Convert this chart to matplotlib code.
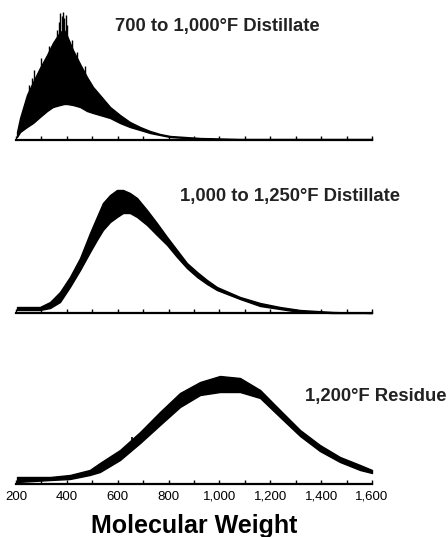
import numpy as np
import matplotlib.pyplot as plt
from matplotlib.ticker import MultipleLocator, FuncFormatter

# molecular weight grid points (relative signal, arbitrary units)
mw_a = [204, 216, 243, 267, 294, 322, 345, 373, 389, 401, 424, 452, 479, 503,
        530, 570, 609, 648, 688, 727, 766, 806, 865, 924, 1081, 1600]
upper_a = [8, 22, 45, 58, 72, 85, 97, 108, 110, 104, 90, 76, 63, 53,
           45, 33, 25, 18, 13, 9, 6, 4, 3, 2, 1, 1]
lower_a = [3, 8, 13, 17, 23, 29, 33, 35, 36, 36, 35, 33, 29, 27,
           25, 22, 17, 13, 10, 7, 5, 3, 2, 1, 0.5, 0.5]
spike_mw = [250, 262, 270, 300, 330, 360, 368, 374, 379, 384, 390, 396, 402, 420, 440, 470]
spike_h = [55, 62, 70, 82, 94, 110, 118, 127, 124, 128, 122, 125, 115, 100, 88, 74]

mw_b = [204, 294, 334, 373, 412, 452, 491, 518, 542, 570, 597, 621, 648, 676,
        715, 754, 794, 833, 872, 912, 951, 990, 1081, 1160, 1238, 1317, 1447, 1600]
upper_b = [6, 6, 11, 21, 36, 55, 80, 96, 110, 118, 123, 123, 120, 115,
           103, 90, 76, 63, 50, 41, 33, 26, 16, 10, 6, 3, 1, 0]
lower_b = [3, 3, 5, 11, 26, 43, 61, 73, 83, 91, 96, 100, 100, 96,
           88, 78, 68, 56, 45, 36, 29, 23, 14, 7, 4, 1, 0, 0]

mw_c = [204, 334, 412, 490, 530, 609, 688, 766, 845, 924, 1002, 1081, 1160,
        1238, 1317, 1395, 1474, 1553, 1600]
upper_c = [7, 7, 9, 14, 21, 34, 52, 72, 91, 102, 108, 106, 94,
           74, 54, 39, 27, 19, 14]
lower_c = [2, 4, 5, 9, 12, 24, 41, 59, 77, 89, 92, 92, 86,
           67, 48, 33, 22, 14, 11]
bump_mw = [656]
bump_h = [47]

labels = ["700 to 1,000\u00b0F Distillate",
          "1,000 to 1,250\u00b0F Distillate",
          "1,200\u00b0F Residue"]

W, H = 448, 537
fig = plt.figure(figsize=(W / 100, H / 100), dpi=100)
plt.rcParams['font.family'] = ['Liberation Sans', 'DejaVu Sans']

baselines = [140, 313, 484]
label_pos = [(115, 26), (180, 197), (305, 397)]
panels = [(mw_a, upper_a, lower_a), (mw_b, upper_b, lower_b), (mw_c, upper_c, lower_c)]

for i, (mw, up, lo) in enumerate(panels):
    ax = fig.add_axes([16 / W, (H - baselines[i]) / H, 356 / W, 135 / H])
    ax.set_xlim(200, 1600)
    ax.set_ylim(0, 135)
    ax.fill_between(mw, lo, up, color='black', lw=1.0, clip_on=False)
    if i == 0:
        ax.vlines(spike_mw, np.interp(spike_mw, mw, up) - 5, spike_h,
                  color='black', lw=1.0, clip_on=False)
    if i == 2:
        ax.vlines(bump_mw, np.interp(bump_mw, mw, up) - 3, bump_h,
                  color='black', lw=1.2, clip_on=False)
    for s in ['top', 'right', 'left']:
        ax.spines[s].set_visible(False)
    ax.spines['bottom'].set_linewidth(1.6)
    ax.set_yticks([])
    ax.xaxis.set_major_locator(MultipleLocator(200))
    ax.xaxis.set_minor_locator(MultipleLocator(100))
    ax.tick_params(axis='x', which='both', direction='in', length=3, width=1.0)
    if i == 2:
        ax.xaxis.set_major_formatter(FuncFormatter(lambda v, p: f"{int(v):,}"))
        ax.tick_params(axis='x', pad=5, labelsize=9.5)
        ax.set_xlabel("Molecular Weight", fontsize=18, fontweight='bold')
        ax.xaxis.set_label_coords(0.5, -0.22)
    else:
        ax.set_xticklabels([])
    fx, fy = label_pos[i]
    fig.text(fx / W, 1 - fy / H, labels[i], fontsize=13.3, fontweight='bold',
             va='center', ha='left', color='#222222')

fig.savefig("out.png", dpi=100)
